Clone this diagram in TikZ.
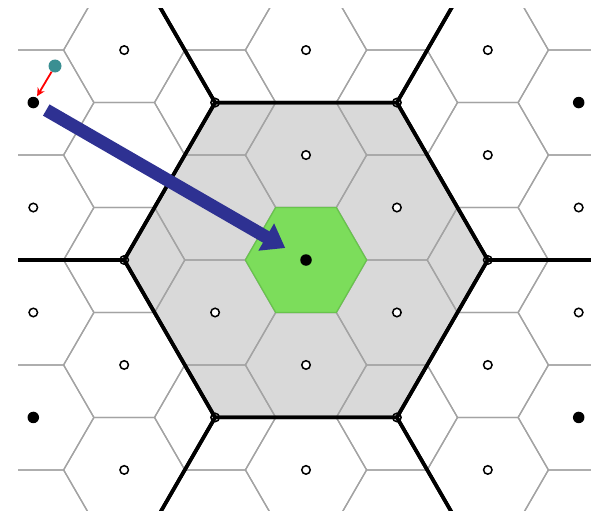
\documentclass[tikz,border=0pt]{standalone}
\usepackage{tikz}
\usetikzlibrary{arrows.meta}

\definecolor{cellgray}{RGB}{163,163,163}
\definecolor{superfill}{RGB}{217,217,217}
\definecolor{homegreen}{RGB}{124,221,91}
\definecolor{homeedge}{RGB}{104,196,76}
\definecolor{probe}{RGB}{58,143,146}
\definecolor{hopblue}{RGB}{46,49,146}

\begin{document}
\begin{tikzpicture}[
  x=1pt,y=-1pt,
  cell/.style={draw=cellgray,line width=1.3pt},
  superedge/.style={draw=black,line width=3.6pt,line join=round},
  site/.style={circle,draw=black,fill=white,line width=1.5pt,inner sep=0pt,minimum size=8.5pt},
  origin/.style={circle,fill=black,inner sep=0pt,minimum size=11.5pt},
  hop/.style={-{Triangle[length=22pt,width=30pt]},line width=13pt,draw=hopblue},
  kick/.style={-{Stealth[length=8pt,width=8pt]},line width=1.8pt,draw=red}]
\def\R{60.6}
\def\h{52.48}
\useasboundingbox (0,0) rectangle (591,511);
\begin{scope}
\clip (18,9) rectangle (592,510);
% super cell
\fill[superfill] (306,260) +(0:3*\R) -- +(60:3*\R) -- +(120:3*\R) -- +(180:3*\R) -- +(240:3*\R) -- +(300:3*\R) -- cycle;
% small cells
\foreach \i in {-4,...,4}{
  \foreach \j in {-6,...,6}{
    \pgfmathsetmacro\cx{306+1.5*\R*\i}
    \pgfmathsetmacro\cy{260+(\i+2*\j)*\h}
    \draw[cell] (\cx,\cy) +(0:\R) -- +(60:\R) -- +(120:\R) -- +(180:\R) -- +(240:\R) -- +(300:\R) -- cycle;
  }
}
% home cell
\filldraw[fill=homegreen,draw=homeedge,line width=1.2pt] (306,260) +(0:\R) -- +(60:\R) -- +(120:\R) -- +(180:\R) -- +(240:\R) -- +(300:\R) -- cycle;
% lattice sites
\foreach \i in {-4,...,4}{
  \foreach \j in {-6,...,6}{
    \pgfmathsetmacro\cx{306+1.5*\R*\i}
    \pgfmathsetmacro\cy{260+(\i+2*\j)*\h}
    \node[site] at (\cx,\cy) {};
  }
}
% super lattice
\foreach \a in {-1,0,1}{
  \foreach \b in {-2,...,2}{
    \pgfmathsetmacro\sx{306+4.5*\R*\a}
    \pgfmathsetmacro\sy{260+(3*\a+6*\b)*\h}
    \draw[superedge] (\sx,\sy) +(0:3*\R) -- +(60:3*\R) -- +(120:3*\R) -- +(180:3*\R) -- +(240:3*\R) -- +(300:3*\R) -- cycle;
  }
}
\end{scope}
% images of the origin
\node[origin] (cen) at (306,260) {};
\node[origin] (img) at (306-4.5*\R,260-3*\h) {};
\node[origin] (imgr) at (306+4.5*\R,260-3*\h) {};
\node[origin] (imgbl) at (306-4.5*\R,260+3*\h) {};
\node[origin] (imgbr) at (306+4.5*\R,260+3*\h) {};
% displaced particle
\node[circle,fill=probe,inner sep=0pt,minimum size=13pt] (pt) at (55,66) {};
\draw[kick,shorten >=1.5pt] (pt) -- (img);
\draw[hop,shorten <=9pt,shorten >=18pt] (img) -- (cen);
\end{tikzpicture}
\end{document}
